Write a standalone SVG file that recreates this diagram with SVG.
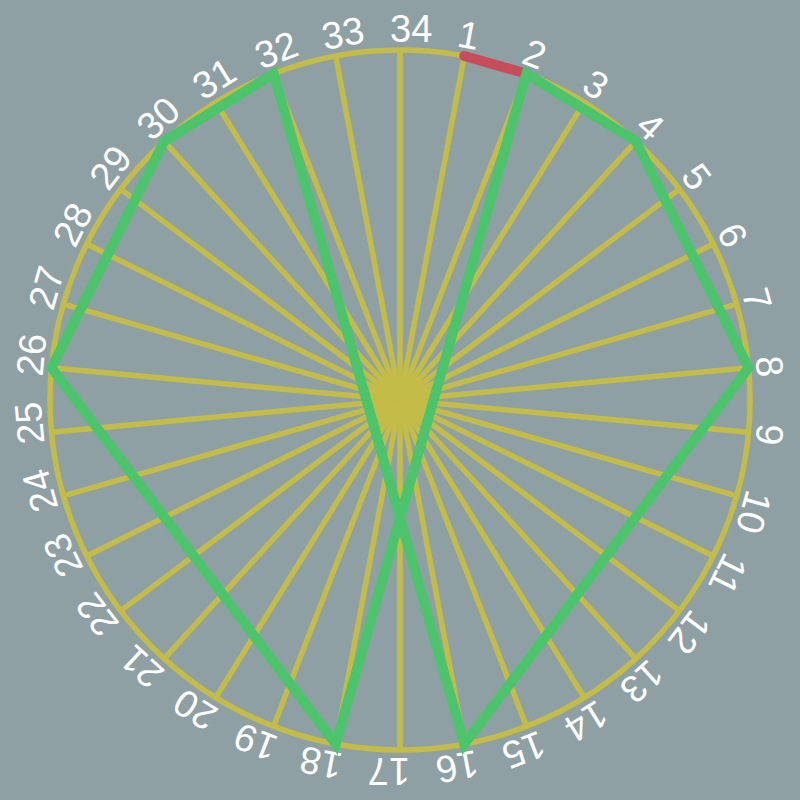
<svg xmlns="http://www.w3.org/2000/svg" width="800" height="800" viewBox="0 0 800 800">
<style>
.bg{fill:#8fa0a4}
.ring{fill:none;stroke:#c4bc48;stroke-width:5.5}
.spoke{stroke:#c4bc48;stroke-width:5.5}
.lbl{fill:#ffffff;font-family:"Liberation Sans",Arial,sans-serif;font-size:38px}
.red{stroke:#c84c5a;stroke-width:10;stroke-linecap:round;fill:none}
.green{stroke:#4cc46c;stroke-width:10;fill:none;stroke-linejoin:miter}
</style>
<rect class="bg" x="0" y="0" width="800" height="800"/>
<circle class="ring" cx="400" cy="400" r="350"/>
<g id="spokes">
<line class="spoke" x1="400" y1="400" x2="464.31" y2="55.96"/>
<line class="spoke" x1="400" y1="400" x2="526.43" y2="73.64"/>
<line class="spoke" x1="400" y1="400" x2="584.25" y2="102.42"/>
<line class="spoke" x1="400" y1="400" x2="635.80" y2="141.35"/>
<line class="spoke" x1="400" y1="400" x2="679.31" y2="189.08"/>
<line class="spoke" x1="400" y1="400" x2="713.31" y2="243.99"/>
<line class="spoke" x1="400" y1="400" x2="736.64" y2="304.22"/>
<line class="spoke" x1="400" y1="400" x2="748.51" y2="367.71"/>
<line class="spoke" x1="400" y1="400" x2="748.51" y2="432.29"/>
<line class="spoke" x1="400" y1="400" x2="736.64" y2="495.78"/>
<line class="spoke" x1="400" y1="400" x2="713.31" y2="556.01"/>
<line class="spoke" x1="400" y1="400" x2="679.31" y2="610.92"/>
<line class="spoke" x1="400" y1="400" x2="635.80" y2="658.65"/>
<line class="spoke" x1="400" y1="400" x2="584.25" y2="697.58"/>
<line class="spoke" x1="400" y1="400" x2="526.43" y2="726.36"/>
<line class="spoke" x1="400" y1="400" x2="464.31" y2="744.04"/>
<line class="spoke" x1="400" y1="400" x2="400" y2="750"/>
<line class="spoke" x1="400" y1="400" x2="335.69" y2="744.04"/>
<line class="spoke" x1="400" y1="400" x2="273.57" y2="726.36"/>
<line class="spoke" x1="400" y1="400" x2="215.75" y2="697.58"/>
<line class="spoke" x1="400" y1="400" x2="164.20" y2="658.65"/>
<line class="spoke" x1="400" y1="400" x2="120.69" y2="610.92"/>
<line class="spoke" x1="400" y1="400" x2="86.69" y2="556.01"/>
<line class="spoke" x1="400" y1="400" x2="63.36" y2="495.78"/>
<line class="spoke" x1="400" y1="400" x2="51.49" y2="432.29"/>
<line class="spoke" x1="400" y1="400" x2="51.49" y2="367.71"/>
<line class="spoke" x1="400" y1="400" x2="63.36" y2="304.22"/>
<line class="spoke" x1="400" y1="400" x2="86.69" y2="243.99"/>
<line class="spoke" x1="400" y1="400" x2="120.69" y2="189.08"/>
<line class="spoke" x1="400" y1="400" x2="164.20" y2="141.35"/>
<line class="spoke" x1="400" y1="400" x2="215.75" y2="102.42"/>
<line class="spoke" x1="400" y1="400" x2="273.57" y2="73.64"/>
<line class="spoke" x1="400" y1="400" x2="335.69" y2="55.96"/>
<line class="spoke" x1="400" y1="400" x2="400" y2="50"/>
</g>
<g id="labels">
<text class="lbl" x="390" y="42" transform="rotate(10.588 400 400)">1</text>
<text class="lbl" x="390" y="42" transform="rotate(21.176 400 400)">2</text>
<text class="lbl" x="390" y="42" transform="rotate(31.765 400 400)">3</text>
<text class="lbl" x="390" y="42" transform="rotate(42.353 400 400)">4</text>
<text class="lbl" x="390" y="42" transform="rotate(52.941 400 400)">5</text>
<text class="lbl" x="390" y="42" transform="rotate(63.529 400 400)">6</text>
<text class="lbl" x="390" y="42" transform="rotate(74.118 400 400)">7</text>
<text class="lbl" x="390" y="42" transform="rotate(84.706 400 400)">8</text>
<text class="lbl" x="390" y="42" transform="rotate(95.294 400 400)">9</text>
<text class="lbl" x="390" y="42" transform="rotate(105.882 400 400)">10</text>
<text class="lbl" x="390" y="42" transform="rotate(116.471 400 400)">11</text>
<text class="lbl" x="390" y="42" transform="rotate(127.059 400 400)">12</text>
<text class="lbl" x="390" y="42" transform="rotate(137.647 400 400)">13</text>
<text class="lbl" x="390" y="42" transform="rotate(148.235 400 400)">14</text>
<text class="lbl" x="390" y="42" transform="rotate(158.824 400 400)">15</text>
<text class="lbl" x="390" y="42" transform="rotate(169.412 400 400)">16</text>
<text class="lbl" x="390" y="42" transform="rotate(180 400 400)">17</text>
<text class="lbl" x="390" y="42" transform="rotate(190.588 400 400)">18</text>
<text class="lbl" x="390" y="42" transform="rotate(201.176 400 400)">19</text>
<text class="lbl" x="390" y="42" transform="rotate(211.765 400 400)">20</text>
<text class="lbl" x="390" y="42" transform="rotate(222.353 400 400)">21</text>
<text class="lbl" x="390" y="42" transform="rotate(232.941 400 400)">22</text>
<text class="lbl" x="390" y="42" transform="rotate(243.529 400 400)">23</text>
<text class="lbl" x="390" y="42" transform="rotate(254.118 400 400)">24</text>
<text class="lbl" x="390" y="42" transform="rotate(264.706 400 400)">25</text>
<text class="lbl" x="390" y="42" transform="rotate(275.294 400 400)">26</text>
<text class="lbl" x="390" y="42" transform="rotate(285.882 400 400)">27</text>
<text class="lbl" x="390" y="42" transform="rotate(296.471 400 400)">28</text>
<text class="lbl" x="390" y="42" transform="rotate(307.059 400 400)">29</text>
<text class="lbl" x="390" y="42" transform="rotate(317.647 400 400)">30</text>
<text class="lbl" x="390" y="42" transform="rotate(328.235 400 400)">31</text>
<text class="lbl" x="390" y="42" transform="rotate(338.824 400 400)">32</text>
<text class="lbl" x="390" y="42" transform="rotate(349.412 400 400)">33</text>
<text class="lbl" x="390" y="42">34</text>
</g>
<g id="connectors">
<line class="red" x1="464.31" y1="55.96" x2="526.43" y2="73.64"/>
<polygon class="green" points="526.43,73.64 635.80,141.35 748.51,367.71 464.31,744.04 273.57,73.64 164.20,141.35 51.49,367.71 335.69,744.04"/>
</g>
</svg>
